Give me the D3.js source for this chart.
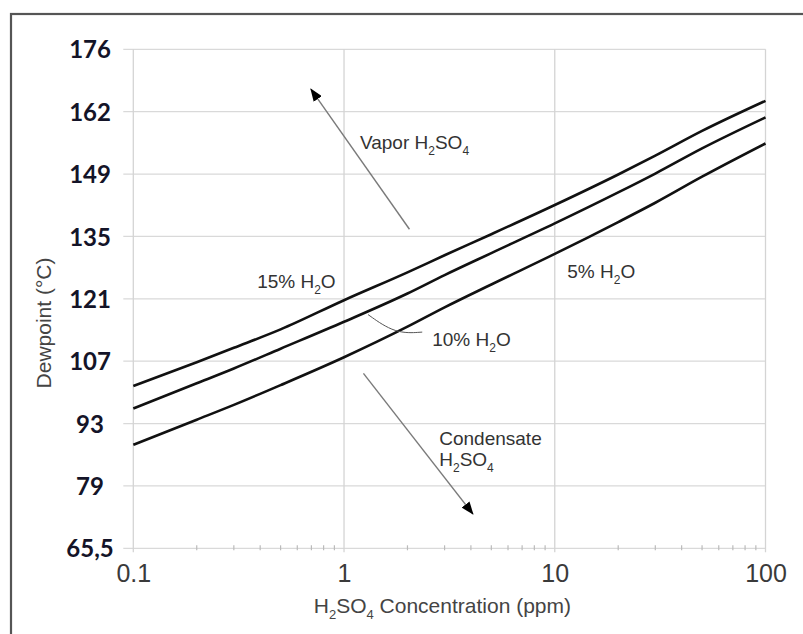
<!DOCTYPE html>
<html>
<head>
<meta charset="utf-8">
<script src="https://cdn.jsdelivr.net/npm/d3@7/dist/d3.min.js"></script>
<style>
  html, body { margin: 0; padding: 0; background: #fff; }
  svg { display: block; }
</style>
</head>
<body>
<svg id="chart" width="803" height="634"></svg>
<script>
// ---------------- DATA ----------------
const concentration = [0.1, 0.2, 0.3, 0.5, 1, 2, 3, 5, 10, 20, 30, 50, 100];
const water15 = [101.7, 107.0, 110.2, 114.3, 120.8, 127.0, 130.8, 135.5, 142.0, 148.8, 153.0, 158.5, 165.2];
const water10 = [96.7, 102.3, 105.6, 110.0, 116.0, 122.3, 126.4, 131.3, 137.9, 144.8, 149.0, 154.6, 161.5];
const water5  = [88.6, 94.2, 97.5, 101.9, 108.1, 114.9, 119.2, 124.3, 131.1, 138.2, 142.5, 148.3, 155.7];

const xTickValues = [0.1, 1, 10, 100];
const xTickLabels = ["0.1", "1", "10", "100"];
const yTickValues = [65.56, 79.44, 93.33, 107.22, 121.11, 135.0, 148.89, 162.78, 176.67];
const yTickLabels = ["65,5", "79", "93", "107", "121", "135", "149", "162", "176"];

// annotation anchors in data units [ppm, °C]
const labelVapor = [1.19, 154.5];
const label15 = [0.387, 123.5];
const label5 = [11.46, 125.7];
const label10 = [2.62, 110.6];
const labelCond = [2.83, 88.55];
const leader10 = [[1.30, 117.6], [1.75, 113.3], [2.35, 113.7]];
const arrowVapor = [[2.044, 136.6], [0.696, 167.8]];
const arrowCond = [[1.236, 104.5], [4.089, 73.2]];

// ---------------- LAYOUT ----------------
const svg = d3.select("#chart");
const mLeft = 133.3, mRight = 765.5, mTop = 49.3, mBottom = 548.3;

const x = d3.scaleLog().domain([0.1, 100]).range([mLeft, mRight]);
const y = d3.scaleLinear().domain([yTickValues[0], yTickValues[yTickValues.length - 1]]).range([mBottom, mTop]);

const sans = "'Liberation Sans', Arial, sans-serif";

// outer frame
svg.append("rect")
  .attr("x", 11).attr("y", 14).attr("width", 820).attr("height", 640)
  .attr("fill", "none").attr("stroke", "#555").attr("stroke-width", 2.2);

svg.append("defs").append("marker")
  .attr("id", "ah").attr("viewBox", "0 0 13 10")
  .attr("refX", 12).attr("refY", 5)
  .attr("markerWidth", 13).attr("markerHeight", 10)
  .attr("markerUnits", "userSpaceOnUse")
  .attr("orient", "auto")
  .append("path").attr("d", "M0,0 L13,5 L0,10 Z").attr("fill", "#000");

// horizontal grid + left ticks
svg.append("g").selectAll("line").data(yTickValues).join("line")
  .attr("x1", mLeft - 10).attr("x2", mRight)
  .attr("y1", d => y(d)).attr("y2", d => y(d))
  .attr("stroke", "#d9d9d9").attr("stroke-width", 1.3);

// vertical grid
svg.append("g").selectAll("line").data(xTickValues).join("line")
  .attr("x1", d => x(d)).attr("x2", d => x(d))
  .attr("y1", mTop).attr("y2", mBottom + 4)
  .attr("stroke", "#d4d4d4").attr("stroke-width", 1.3);

// minor ticks
const minor = x.ticks().filter(d => !xTickValues.some(t => Math.abs(t - d) < 1e-9));
svg.append("g").selectAll("line").data(minor).join("line")
  .attr("x1", d => x(d)).attr("x2", d => x(d))
  .attr("y1", mBottom - 3).attr("y2", mBottom + 2)
  .attr("stroke", "#bbb").attr("stroke-width", 1.2);

// x axis labels via d3 axis
const xAxis = d3.axisBottom(x).tickValues(xTickValues).tickFormat((d, i) => xTickLabels[i]).tickSize(0);
const gx = svg.append("g").attr("transform", `translate(0,${mBottom})`).call(xAxis);
gx.select(".domain").remove();
gx.selectAll("text")
  .attr("y", 34).attr("dy", 0)
  .attr("fill", "#3a3a3a")
  .style("font-family", sans).style("font-size", "25px");

// y axis labels via d3 axis
const yAxis = d3.axisLeft(y).tickValues(yTickValues).tickFormat((d, i) => yTickLabels[i]).tickSize(0);
const gy = svg.append("g").attr("transform", `translate(${mLeft},0)`).call(yAxis);
gy.select(".domain").remove();
gy.selectAll("text")
  .attr("x", 90 - mLeft).attr("dy", "0.36em")
  .attr("text-anchor", "middle")
  .attr("fill", "#141428")
  .style("font-family", "Lato, 'Noto Sans', sans-serif")
  .style("font-weight", "700").style("font-size", "24px");

// curves
const line = d3.line().x(d => x(d[0])).y(d => y(d[1])).curve(d3.curveMonotoneX);
[water15, water10, water5].forEach(series => {
  svg.append("path")
    .datum(concentration.map((c, i) => [c, series[i]]))
    .attr("d", line)
    .attr("fill", "none").attr("stroke", "#111").attr("stroke-width", 2.6);
});

// arrows
[arrowVapor, arrowCond].forEach(a => {
  svg.append("line")
    .attr("x1", x(a[0][0])).attr("y1", y(a[0][1]))
    .attr("x2", x(a[1][0])).attr("y2", y(a[1][1]))
    .attr("stroke", "#7a7a7a").attr("stroke-width", 1.4)
    .attr("marker-end", "url(#ah)");
});

// leader for 10%
svg.append("path")
  .datum(leader10)
  .attr("d", d3.line().x(d => x(d[0])).y(d => y(d[1])).curve(d3.curveBasis))
  .attr("fill", "none").attr("stroke", "#555").attr("stroke-width", 1);

// text helper with subscripts (shift in px, restored on the next part)
function chem(sel, parts, size) {
  const shift = Math.round(size * 0.3);
  let shifted = false;
  parts.forEach(p => {
    const ts = sel.append("tspan").text(p.t);
    if (p.sub) {
      ts.attr("font-size", Math.round(size * 0.62) + "px");
      if (!shifted) { ts.attr("dy", shift); shifted = true; }
    } else if (shifted) {
      ts.attr("dy", -shift); shifted = false;
    }
  });
}
function label(pos, parts, size, dyPx) {
  const s = size || 19;
  const t = svg.append("text")
    .attr("x", x(pos[0])).attr("y", y(pos[1]) + (dyPx || 0))
    .attr("fill", "#333")
    .style("font-family", sans).style("font-size", s + "px");
  chem(t, parts, s);
  return t;
}

label(labelVapor, [{t: "Vapor H"}, {t: "2", sub: true}, {t: "SO"}, {t: "4", sub: true}]);
label(label15, [{t: "15% H"}, {t: "2", sub: true}, {t: "O"}]);
label(label5, [{t: "5% H"}, {t: "2", sub: true}, {t: "O"}]);
label(label10, [{t: "10% H"}, {t: "2", sub: true}, {t: "O"}]);
label(labelCond, [{t: "Condensate"}]);
label(labelCond, [{t: "H"}, {t: "2", sub: true}, {t: "SO"}, {t: "4", sub: true}], 19, 21);

// axis titles
const xt = svg.append("text")
  .attr("x", (mLeft + mRight) / 2 - 7).attr("y", 613)
  .attr("text-anchor", "middle").attr("fill", "#444")
  .style("font-family", sans).style("font-size", "21px");
chem(xt, [{t: "H"}, {t: "2", sub: true}, {t: "SO"}, {t: "4", sub: true}, {t: " Concentration (ppm)"}], 21);

svg.append("text")
  .attr("transform", "translate(51,323) rotate(-90)")
  .attr("text-anchor", "middle").attr("fill", "#444")
  .style("font-family", sans).style("font-size", "21px")
  .text("Dewpoint (\u00B0C)");
</script>
</body>
</html>
